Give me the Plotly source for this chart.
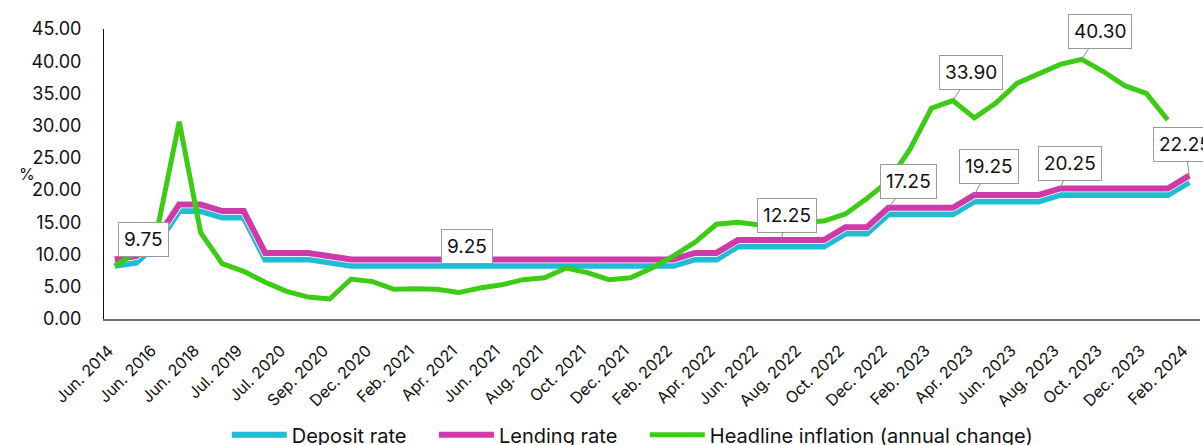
import plotly.graph_objects as go

# Reporting periods (category axis)
periods = [
    "Jun. 2014", "Jun. 2015", "Jun. 2016", "Jun. 2017", "Jun. 2018", "Jun. 2019",
    "Jul. 2019", "Jun. 2020", "Jul. 2020", "Aug. 2020", "Sep. 2020", "Nov. 2020",
    "Dec. 2020", "Jan. 2021", "Feb. 2021", "Mar. 2021", "Apr. 2021", "May. 2021",
    "Jun. 2021", "Jul. 2021", "Aug. 2021", "Sep. 2021", "Oct. 2021", "Nov. 2021",
    "Dec. 2021", "Jan. 2022", "Feb. 2022", "Mar. 2022", "Apr. 2022", "May. 2022",
    "Jun. 2022", "Jul. 2022", "Aug. 2022", "Sep. 2022", "Oct. 2022", "Nov. 2022",
    "Dec. 2022", "Jan. 2023", "Feb. 2023", "Mar. 2023", "Apr. 2023", "May. 2023",
    "Jun. 2023", "Jul. 2023", "Aug. 2023", "Sep. 2023", "Oct. 2023", "Nov. 2023",
    "Dec. 2023", "Jan. 2024", "Feb. 2024",
]

# Overnight lending rate (%)
lending_rate = [
    9.25, 9.75, 12.75, 17.75, 17.75, 16.75, 16.75, 10.25, 10.25, 10.25, 9.75, 9.25,
    9.25, 9.25, 9.25, 9.25, 9.25, 9.25, 9.25, 9.25, 9.25, 9.25, 9.25, 9.25,
    9.25, 9.25, 9.25, 10.25, 10.25, 12.25, 12.25, 12.25, 12.25, 12.25, 14.25, 14.25,
    17.25, 17.25, 17.25, 17.25, 19.25, 19.25, 19.25, 19.25, 20.25, 20.25, 20.25, 20.25,
    20.25, 20.25, 22.25,
]

# Overnight deposit rate (%)
deposit_rate = [
    8.25, 8.75, 11.75, 16.75, 16.75, 15.75, 15.75, 9.25, 9.25, 9.25, 8.75, 8.25,
    8.25, 8.25, 8.25, 8.25, 8.25, 8.25, 8.25, 8.25, 8.25, 8.25, 8.25, 8.25,
    8.25, 8.25, 8.25, 9.25, 9.25, 11.25, 11.25, 11.25, 11.25, 11.25, 13.25, 13.25,
    16.25, 16.25, 16.25, 16.25, 18.25, 18.25, 18.25, 18.25, 19.25, 19.25, 19.25, 19.25,
    19.25, 19.25, 21.25,
]

# Headline inflation, annual change (%); no reading yet for the last period
inflation = [
    8.2, 10.4, 14.2, 30.6, 13.4, 8.6, 7.4, 5.7, 4.3, 3.4, 3.1, 6.2,
    5.8, 4.6, 4.7, 4.6, 4.1, 4.8, 5.3, 6.1, 6.4, 7.9, 7.2, 6.1,
    6.4, 7.9, 9.8, 11.9, 14.7, 15.0, 14.6, 15.0, 15.0, 15.2, 16.3, 18.7,
    21.4, 26.3, 32.7, 33.9, 31.2, 33.5, 36.6, 38.0, 39.5, 40.3, 38.4, 36.2,
    35.0, 30.9, None,
]

# Callouts: (series, period, box offset x px, box offset y px, with pointer)
callouts = [
    ("lending", "Jun. 2015", 7, -17, False),
    ("lending", "Apr. 2021", 8, -13, False),
    ("lending", "Jul. 2022", 6, -25, True),
    ("lending", "Dec. 2022", 20, -26, True),
    ("lending", "Apr. 2023", 15, -28, True),
    ("lending", "Aug. 2023", 10, -25, True),
    ("lending", "Feb. 2024", -4, -31, True),
    ("inflation", "Mar. 2023", 18, -28, True),
    ("inflation", "Sep. 2023", 18, -28, True),
]

FONT = "Inter, Lato, 'DejaVu Sans', sans-serif"
CYAN = "#20bcd3"
MAGENTA = "#cf3aab"
GREEN = "#3ccc14"
GAP = "\u00a0" * 4  # extra room after each legend entry

fig = go.Figure()
fig.add_trace(go.Scatter(
    x=periods, y=deposit_rate, mode="lines", name="Deposit rate" + GAP,
    line=dict(color=CYAN, width=6), hoverinfo="x+y",
))
# thin white edge separating the two rate lines
fig.add_trace(go.Scatter(
    x=periods, y=lending_rate, mode="lines", showlegend=False,
    line=dict(color="white", width=7.5), hoverinfo="skip",
))
fig.add_trace(go.Scatter(
    x=periods, y=lending_rate, mode="lines", name="Lending rate" + GAP,
    line=dict(color=MAGENTA, width=6), hoverinfo="x+y",
))
fig.add_trace(go.Scatter(
    x=periods, y=inflation, mode="lines", name="Headline inflation (annual change)",
    line=dict(color=GREEN, width=5), hoverinfo="x+y",
))

series = {"lending": lending_rate, "inflation": inflation}
for name, period, dx, dy, pointer in callouts:
    value = series[name][periods.index(period)]
    common = dict(
        x=period, y=value, xref="x", yref="y",
        text=f"{value:.2f}", font=dict(family=FONT, size=19, color="#111111"),
        bgcolor="white", bordercolor="#9a9a9a", borderwidth=1, borderpad=5,
    )
    if pointer:
        fig.add_annotation(**common, showarrow=True, ax=dx, ay=dy,
                           arrowhead=0, arrowwidth=1, arrowcolor="#8a8a8a")
    else:
        fig.add_annotation(**common, showarrow=False, xshift=dx, yshift=-dy)

# axis unit
fig.add_annotation(
    x=-0.079, y=0.5, xref="paper", yref="paper", text="%", showarrow=False,
    font=dict(family=FONT, size=16, color="#111111"),
)

fig.update_layout(
    width=1203, height=445,
    margin=dict(l=104, r=3, t=29, b=126, autoexpand=False),
    plot_bgcolor="white", paper_bgcolor="white",
    font=dict(family=FONT, color="#111111"),
    showlegend=True,
    legend=dict(
        orientation="h", x=0.482, xanchor="center",
        yref="paper", y=-0.332, yanchor="top",
        bgcolor="rgba(0,0,0,0)",
        font=dict(family=FONT, size=20, color="#111111"),
        itemwidth=55, tracegroupgap=0,
    ),
    xaxis=dict(
        type="category", range=[-0.5, len(periods) - 0.5],
        tickvals=periods[::2], ticktext=periods[::2], tickangle=-45,
        tickfont=dict(family=FONT, size=16, color="#111111"),
        showline=True, linecolor="#6f6f6f", linewidth=2,
        showgrid=False, ticks="", zeroline=False,
        ticklabelstandoff=14, ticklabelshift=-6, automargin=False,
    ),
    yaxis=dict(
        range=[0, 45], dtick=5, tickformat=".2f",
        tickfont=dict(family=FONT, size=18, color="#111111"),
        showline=True, linecolor="#111111", linewidth=1,
        showgrid=False, zeroline=False, ticks="", ticklabelstandoff=18,
        automargin=False,
    ),
)

fig.write_html("out.html")
